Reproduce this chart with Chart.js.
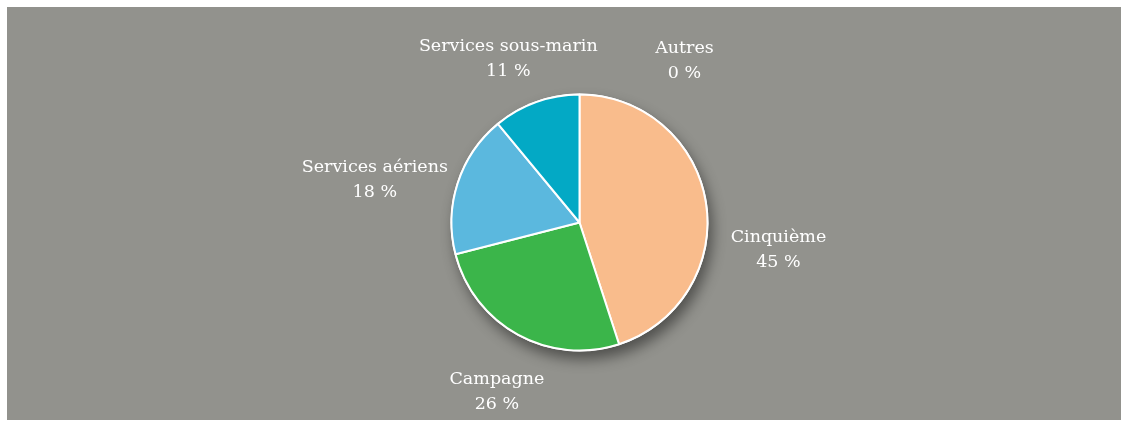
<!DOCTYPE html>
<html>
<head>
<meta charset="utf-8">
<script src="https://cdn.jsdelivr.net/npm/chart.js@4"></script>
<style>
  html, body { margin: 0; padding: 0; background: #fff; }
  #wrap { width: 1128px; height: 427px; }
</style>
</head>
<body>
<div id="wrap"><canvas id="myChart" width="1128" height="427"></canvas></div>
<script>
// data
const categories = ["Cinquième", "Campagne", "Services aériens", "Services sous-marin", "Autres"];
const shares = [45, 26, 18, 11, 0];
const sliceColors = ["#f9bc8c", "#3bb54a", "#5bb8de", "#03a9c5", "#8c8c88"];
// small nudges for the outside labels (px), relative to the mid-angle point
const labelNudge = [[3, 58], [13, -4], [-16, 19], [-4, 23], [105, 37]];

const panel = {
  id: "panel",
  beforeDraw(chart) {
    const c = chart.ctx;
    c.save();
    c.fillStyle = "#fff";
    c.fillRect(0, 0, chart.width, chart.height);
    c.fillStyle = "#92928d";
    c.fillRect(7, 7, chart.width - 14, chart.height - 14);
    c.restore();
  }
};

const pieShadow = {
  id: "pieShadow",
  beforeDatasetsDraw(chart) {
    const arc = chart.getDatasetMeta(0).data[0];
    if (!arc) return;
    const c = chart.ctx;
    c.save();
    c.shadowColor = "rgba(0,0,0,0.45)";
    c.shadowBlur = 14;
    c.shadowOffsetX = 4;
    c.shadowOffsetY = 8;
    c.fillStyle = "#fff";
    c.beginPath();
    c.arc(arc.x, arc.y, arc.outerRadius + 1, 0, Math.PI * 2);
    c.fill();
    c.restore();
  }
};

const outsideLabels = {
  id: "outsideLabels",
  afterDatasetsDraw(chart) {
    const meta = chart.getDatasetMeta(0);
    const c = chart.ctx;
    c.save();
    c.fillStyle = "#ffffff";
    c.textAlign = "center";
    c.textBaseline = "middle";
    c.font = "17.5px 'DejaVu Serif'";
    meta.data.forEach((arc, i) => {
      const mid = (arc.startAngle + arc.endAngle) / 2;
      const d = arc.outerRadius * 1.55;
      const x = arc.x + Math.cos(mid) * d + labelNudge[i][0];
      const y = arc.y + Math.sin(mid) * d + labelNudge[i][1];
      c.fillText(categories[i], x, y - 12.5);
      c.fillText(shares[i] + " %", x, y + 12.5);
    });
    c.restore();
  }
};

const ctx = document.getElementById("myChart").getContext("2d");
const myChart = new Chart(ctx, {
  type: "pie",
  data: {
    labels: categories,
    datasets: [{
      data: shares,
      backgroundColor: sliceColors,
      borderColor: "#ffffff",
      borderWidth: 2
    }]
  },
  options: {
    responsive: false,
    animation: false,
    radius: 128,
    layout: { padding: { left: 31, right: 0, top: 18, bottom: 0 } },
    plugins: {
      legend: { display: false },
      tooltip: { enabled: false }
    }
  },
  plugins: [panel, pieShadow, outsideLabels]
});
</script>
</body>
</html>
